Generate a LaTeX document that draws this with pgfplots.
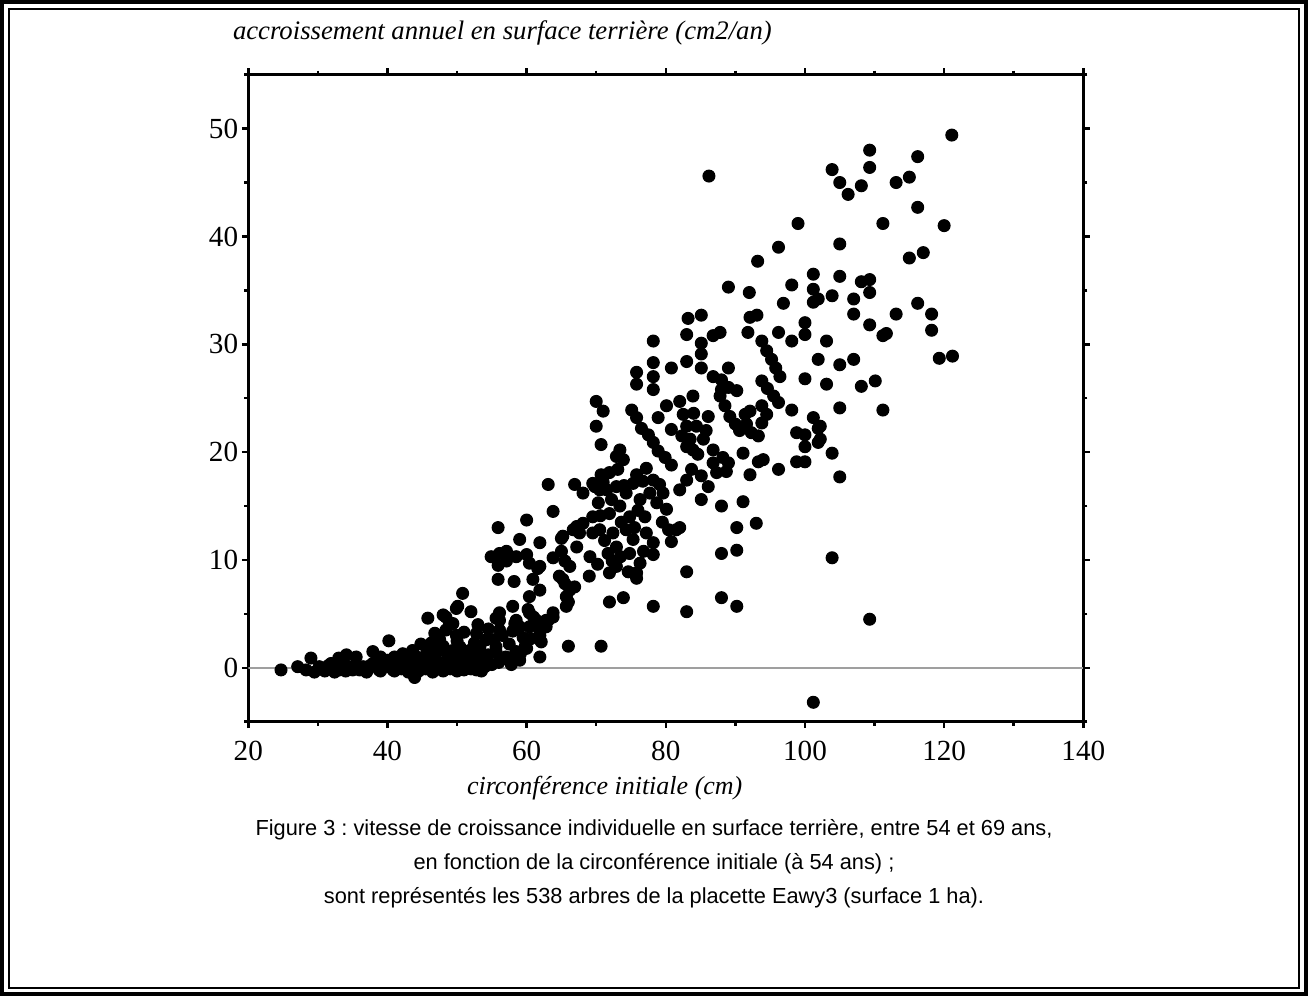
\documentclass[border=0pt]{standalone}
\usepackage{fontspec}
\setmainfont{Liberation Serif}
\newfontfamily\capfont{Liberation Sans}
\usepackage{pgfplots}
\pgfplotsset{compat=1.18}
\usepackage{pgfplotstable}
\frenchspacing

% circonference initiale (cm), accroissement (cm2/an)
\pgfplotstableread{
x y
121.1 49.4
109.3 48.0
109.3 46.4
116.2 47.4
103.9 46.2
105.0 45.0
106.2 43.9
108.1 44.7
113.1 45.0
115.0 45.5
116.2 42.7
99.0 41.2
111.2 41.2
120.0 41.0
105.0 39.3
115.0 38.0
117.0 38.5
101.2 36.5
105.0 36.3
108.1 35.8
109.3 36.0
109.3 34.8
101.2 35.1
101.2 33.9
101.9 34.2
103.9 34.5
107.0 34.2
107.0 32.8
113.1 32.8
116.2 33.8
118.2 32.8
118.2 31.3
109.3 31.8
111.2 30.8
111.7 31.0
103.1 30.3
100.0 32.0
100.0 30.9
101.9 28.6
107.0 28.6
119.3 28.7
121.2 28.9
105.0 28.1
100.0 26.8
103.1 26.3
108.1 26.1
110.1 26.6
105.0 24.1
111.2 23.9
101.2 23.2
101.9 22.2
100.0 21.6
100.0 20.5
101.9 20.9
100.0 19.1
103.9 19.9
105.0 17.7
103.9 10.2
109.3 4.5
101.2 -3.2
86.2 45.6
96.2 39.0
93.2 37.7
89.0 35.3
92.0 34.8
98.1 35.5
96.9 33.8
83.2 32.4
85.1 32.7
92.1 32.5
93.1 32.7
83.0 30.9
91.8 31.1
87.8 31.1
86.8 30.8
96.2 31.1
98.1 30.3
78.2 30.3
85.1 30.1
85.1 29.1
93.8 30.3
94.5 29.4
95.2 28.6
95.8 27.8
96.4 27.0
78.2 28.3
78.2 27.0
78.2 25.8
80.8 27.8
83.0 28.4
85.1 27.8
75.8 27.4
75.8 26.3
86.8 27.0
88.0 26.7
89.0 27.8
89.0 26.0
90.2 25.7
88.0 25.8
87.8 25.2
88.5 24.3
89.2 23.3
90.0 22.6
90.6 22.0
93.8 26.6
94.6 25.9
95.5 25.2
96.2 24.6
93.8 24.3
94.5 23.5
93.8 22.7
91.4 23.5
92.1 23.8
91.6 22.6
92.3 21.8
93.3 21.5
98.1 23.9
102.2 22.4
102.2 21.2
98.8 21.8
98.8 19.1
70.0 24.7
71.0 23.8
70.0 22.4
70.7 20.7
75.1 23.9
75.8 23.2
76.5 22.2
78.9 23.2
77.5 21.6
78.2 20.9
78.9 20.1
79.9 19.5
80.8 18.8
80.1 24.3
82.0 24.7
83.9 25.2
80.8 22.1
83.0 22.4
84.4 22.4
83.5 21.2
85.4 21.2
83.9 20.2
84.6 19.8
83.0 20.5
82.5 23.5
84.0 23.6
82.3 21.5
85.8 22.0
86.1 23.3
86.8 20.2
86.8 19.0
83.7 18.4
85.1 17.8
86.1 16.8
85.1 15.6
83.0 17.4
82.0 16.5
88.2 19.5
89.0 19.0
88.7 18.2
87.3 18.1
91.1 19.9
92.1 17.9
93.3 19.1
94.0 19.3
96.2 18.4
91.1 15.4
88.0 15.0
90.2 13.0
93.0 13.4
82.0 13.0
88.0 10.6
90.2 10.9
83.0 8.9
88.0 6.5
90.2 5.7
83.0 5.2
78.2 5.7
71.9 6.1
73.9 6.5
70.7 2.0
66.0 2.0
61.9 1.0
69.0 8.5
75.8 8.3
65.5 7.8
66.2 7.2
66.9 7.5
66.0 6.1
65.7 5.7
63.8 5.1
63.1 4.4
62.3 3.7
61.9 3.0
63.1 17.0
63.8 14.5
66.9 17.0
68.1 16.2
69.5 17.1
70.5 16.5
61.9 11.6
61.9 9.4
63.8 10.2
65.5 9.9
66.2 9.4
65.0 12.0
66.7 12.8
68.1 13.4
69.1 10.3
70.7 17.9
71.9 18.1
73.1 18.4
73.4 20.2
73.9 19.3
69.8 16.8
71.5 16.5
72.9 16.8
74.3 16.2
75.8 17.9
76.7 17.3
78.2 17.4
79.1 17.0
77.7 16.2
76.3 15.6
78.7 15.3
80.1 14.7
70.3 15.3
71.9 14.3
73.4 15.0
74.8 14.0
69.5 14.0
70.6 14.1
69.5 12.5
70.5 12.8
72.4 12.5
74.3 12.8
75.3 11.9
72.9 11.2
74.8 10.6
71.7 10.6
76.3 9.7
75.8 8.8
72.9 9.4
74.6 8.9
77.2 12.5
78.2 11.6
78.2 10.5
80.4 12.8
81.5 12.8
80.8 11.7
71.9 8.8
67.6 12.5
64.7 8.5
61.9 7.2
72.9 19.6
75.3 17.1
71.0 17.2
72.2 15.6
73.6 13.5
75.5 13.0
76.0 14.6
77.0 14.0
79.5 13.5
71.2 11.8
73.5 10.3
76.8 10.8
70.2 9.6
72.3 9.9
74.0 16.9
77.2 18.5
79.6 16.2
60.0 13.7
55.9 13.0
59.0 11.9
54.9 10.3
56.1 10.6
57.1 10.8
55.9 9.5
57.1 9.9
58.5 10.3
60.0 10.5
60.4 9.7
61.6 9.2
55.9 8.2
58.2 8.0
60.9 8.2
65.0 10.8
67.2 11.2
65.2 8.2
65.7 6.6
65.2 12.2
67.2 13.1
60.4 6.6
60.4 5.1
58.0 5.7
58.3 4.1
60.4 3.8
61.4 4.4
62.8 4.4
63.8 4.7
61.9 3.4
62.8 3.8
62.1 2.4
50.8 6.9
50.1 5.7
52.0 5.2
45.8 4.6
49.4 4.1
48.4 3.5
47.5 2.6
46.5 1.95
52.8 3.2
54.2 2.6
55.6 1.95
53.5 1.3
51.8 1.6
50.4 1.95
49.4 1.6
56.1 4.4
56.5 3.0
57.5 2.2
58.5 1.5
59.5 2.8
57.0 1.0
58.0 3.4
59.0 0.7
56.0 0.5
60.0 1.8
57.8 0.3
55.0 0.3
54.5 1.2
24.7 -0.2
27.1 0.1
28.3 -0.2
29.0 0.9
30.2 0.1
29.5 -0.4
31.9 0.4
32.4 -0.4
33.1 -0.2
34.1 1.2
35.0 -0.2
37.9 1.5
37.9 0.4
36.9 -0.2
38.8 -0.2
40.2 2.5
36.0 -0.2
40.0 0.7
40.8 -0.2
43.9 -0.9
42.2 1.3
43.6 1.6
45.6 1.3
47.5 1.6
49.4 1.0
49.9 5.5
48.0 4.9
48.9 4.0
46.3 2.3
49.9 3.0
52.5 2.3
52.3 1.0
52.8 -0.2
54.2 0.7
56.1 3.5
58.5 4.4
31.0 -0.3
31.5 0.2
32.0 -0.1
33.5 0.3
34.0 -0.3
34.5 0.1
35.5 0.3
36.5 0.1
37.0 -0.4
37.5 0.2
38.5 0.5
39.0 -0.3
39.5 0.1
40.5 0.3
41.0 -0.3
41.5 0.5
42.0 -0.1
42.5 0.3
43.0 -0.4
43.5 0.6
44.0 0.1
44.5 -0.3
45.0 0.5
45.5 -0.1
46.0 0.3
46.5 -0.4
47.0 0.7
47.5 0.0
48.0 -0.3
48.5 0.4
49.0 -0.1
49.5 0.6
50.0 -0.3
50.5 0.2
51.0 -0.2
51.5 0.5
52.0 -0.1
53.0 0.3
53.5 -0.3
54.0 0.1
44.2 1.0
41.0 1.0
39.0 1.0
35.5 1.0
33.0 0.9
46.0 1.5
48.0 2.0
50.0 2.5
51.0 3.3
53.0 4.0
44.8 2.2
46.8 3.2
50.5 1.2
51.5 0.9
53.3 2.0
55.3 2.6
54.5 3.6
48.7 1.1
42.8 0.8
48.4 4.7
55.6 4.6
56.1 5.1
59.0 3.8
60.2 5.4
61.0 4.7
59.1 1.3
59.8 2.0
60.6 2.7
55.6 1.5
58.0 1.0
}\arbres

\begin{document}
\begin{tikzpicture}
\begin{axis}[
    at={(0,0)}, anchor=south west,
    scale only axis,
    width=83.5mm, height=64.7mm,
    xmin=20, xmax=140, ymin=-5, ymax=55,
    xtick={20,40,...,140}, ytick={0,10,...,50},
    minor xtick={30,50,...,130},
    minor ytick={-5,5,...,55},
    tick align=outside,
    major tick length=0.65mm, minor tick length=0.4mm,
    axis line style={line width=0.85pt},
    every tick/.style={black, line width=0.7pt},
    tick label style={font=\fontsize{8.3}{9}\selectfont, /pgf/number format/assume math mode=true},
    xticklabel style={anchor=north, inner sep=0pt, yshift=-1.2mm},
    yticklabel style={anchor=east, inner sep=0pt, xshift=-0.3mm},
]
\addplot[only marks, mark=*, mark size=1.7pt,
    mark options={fill=black, draw=black, line width=0.3pt}] table {\arbres};
\addplot[gray!75, line width=0.55pt] coordinates {(20,0) (140,0)};
\end{axis}

\node[anchor=base west, inner sep=0pt, font=\fontsize{7.6}{9}\selectfont\itshape]
    at (-1.6mm,68.2mm) {accroissement annuel en surface terrière (cm2/an)};
\node[anchor=base west, inner sep=0pt, font=\fontsize{7.4}{9}\selectfont\itshape]
    at (21.8mm,-7.3mm) {circonférence initiale (cm)};

\begin{scope}[font=\capfont\fontsize{6.2}{8}\selectfont]
\node[anchor=base, inner sep=0pt] at (40.57mm,-11.4mm)
    {Figure 3 : vitesse de croissance individuelle en surface terrière, entre 54 et 69 ans,};
\node[anchor=base, inner sep=0pt] at (40.57mm,-14.8mm)
    {en fonction de la circonférence initiale (à 54 ans) ;};
\node[anchor=base, inner sep=0pt] at (40.57mm,-18.2mm)
    {sont représentés les 538 arbres de la placette Eawy3 (surface 1 ha).};
\end{scope}

% double cadre
\coordinate (LL) at (-24.83mm,-27.53mm);
\coordinate (UR) at (105.97mm,72.17mm);
\draw[line width=0.4mm] ([shift={(0.25mm,0.25mm)}]LL) rectangle ([shift={(-0.25mm,-0.25mm)}]UR);
\draw[line width=0.15mm] ([shift={(0.9mm,0.9mm)}]LL) rectangle ([shift={(-0.9mm,-0.9mm)}]UR);
\pgfresetboundingbox
\useasboundingbox (LL) rectangle (UR);
\end{tikzpicture}
\end{document}
